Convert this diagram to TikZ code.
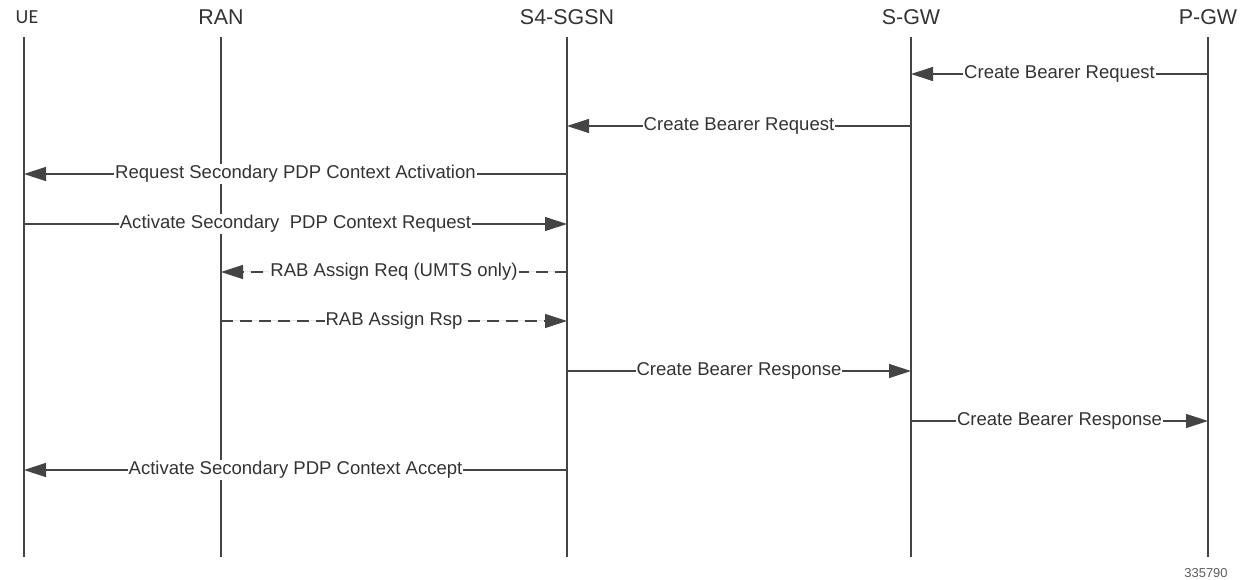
\documentclass[tikz,border=0pt]{standalone}
\usepackage{fontspec}
\setmainfont{Liberation Sans}
\newfontfamily\uefont{Carlito}
\usetikzlibrary{arrows.meta}
\definecolor{linegray}{HTML}{444444}
\definecolor{textgray}{HTML}{333333}
\tikzset{
    head/.style={text=textgray,font=\fontsize{21.5}{24}\selectfont,inner sep=0pt},
    life/.style={draw=linegray,line width=1.2bp},
    msg/.style={draw=linegray,line width=1.2bp,-{Triangle[length=22bp,width=14bp]},fill=linegray},
    dmsg/.style={msg,dash pattern=on 12bp off 7bp},
    lbl/.style={fill=white,text=textgray,font=\fontsize{18.6}{21}\selectfont,inner sep=1bp}
}
\begin{document}
\begin{tikzpicture}[x=1bp,y=-1bp]
                \useasboundingbox (0,0) rectangle (1251,580);
                % lifelines
                \foreach \n/\x/\t in {ran/221/RAN,s4/567/S4-SGSN,sgw/911/S-GW,pgw/1208/P-GW} {
                    \node[head] (\n) at (\x,17) {\t};
                }
                \node[head,font=\uefont\fontsize{20}{24}\selectfont] (ue) at (27,17) {UE};
                \foreach \n/\x in {ue/24,ran/221,s4/567,sgw/911,pgw/1208} {
                    \coordinate (\n-top) at (\x,37);
                    \coordinate (\n-end) at (\x,557);
                    \draw[life] (\n-top) -- (\n-end);
                }
                % messages
                \foreach \a/\b/\y/\s/\t in {
                    pgw/sgw/74/msg/Create Bearer Request,
                    sgw/s4/126/msg/Create Bearer Request,
                    s4/ue/174/msg/Request Secondary PDP Context Activation,
                    ue/s4/224/msg/Activate Secondary\ \ PDP Context Request,
                    s4/ran/272/dmsg/RAB Assign Req (UMTS only),
                    ran/s4/321/dmsg/RAB Assign Rsp,
                    s4/sgw/371/msg/Create Bearer Response,
                    sgw/pgw/421/msg/Create Bearer Response,
                    s4/ue/470/msg/Activate Secondary PDP Context Accept} {
                    \coordinate (m) at (0,\y);
                    \draw[\s] (\a-top |- m) -- node[lbl] {\t} (\b-top |- m);
                }
                \node[text=textgray!80,font=\fontsize{13}{15}\selectfont,inner sep=0pt] (fignum) at (1206,573) {335790};
            \end{tikzpicture}
\end{document}
